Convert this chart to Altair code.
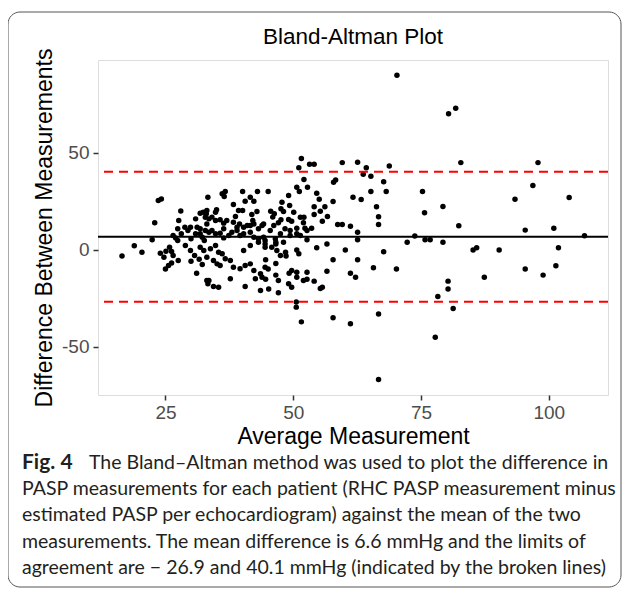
import altair as alt
import pandas as pd

avg_measurement = [
    16.5, 18.9, 20.4, 22.4, 22.9, 23.6, 24.2, 28.0,
    24.0, 24.7, 25.1, 25.8, 26.2, 26.5, 27.5, 26.2, 25.6, 25.0,
    26.5, 27.0, 27.4, 28.1, 27.4, 27.6, 28.8, 29.4, 30.0, 30.9, 31.2, 30.9, 31.8, 32.2,
    33.0, 33.3, 32.6, 33.1, 28.9, 29.9, 30.7, 31.6, 32.2, 30.0, 31.1, 33.1, 33.3,
    36.1, 36.7, 36.5, 40.1, 41.6, 42.3, 40.6, 43.0, 45.1, 38.3, 39.3, 40.1,
    33.1, 32.4, 31.8, 34.8, 35.0, 33.5, 34.1, 34.8, 35.7, 36.4, 37.0, 38.7, 38.3,
    39.5, 40.3, 41.0, 41.6, 42.1, 42.9, 45.6, 46.3, 47.8, 47.6, 49.1, 49.3, 50.1,
    50.7, 51.4, 52.8, 52.1,
    31.8, 32.8, 33.5, 34.1, 34.8, 35.7, 36.4, 37.4, 38.0, 39.0, 39.6, 40.3,
    41.6, 42.3, 43.2, 44.5, 45.5, 46.5, 47.5, 48.4, 49.4, 50.7, 51.4, 52.7,
    31.8, 32.5, 33.8, 34.8, 35.4, 36.1, 36.7, 34.4, 33.1, 35.1, 35.7, 37.7, 38.3,
    39.6, 40.6, 41.6, 42.3, 43.6, 44.5, 40.3, 41.6, 43.2, 44.5, 45.8, 46.8, 47.5,
    48.5, 49.7, 50.7, 33.5, 34.4, 35.4, 37.7, 40.6, 42.6, 43.9, 43.6, 45.2, 47.1,
    49.1, 50.7, 52.0, 52.7,
    41.9, 44.2, 32.8, 39.0, 42.3, 43.2, 29.9, 36.4,
    70.3, 51.6, 51.1, 53.2, 54.1, 59.6, 62.6, 64.3, 63.7, 65.2, 68.8, 52.1, 57.9,
    58.3, 67.7, 68.2, 65.2, 51.2, 54.6, 55.1, 56.2, 54.1, 54.1, 55.3, 56.7, 55.7,
    57.8, 61.7, 63.3, 66.3, 66.7, 66.7, 58.7, 59.6, 61.2, 62.6, 75.3, 75.7, 73.8,
    53.6, 52.0, 52.3, 48.1, 46.0, 49.1, 49.7, 47.6, 47.1, 50.7, 46.2, 43.9, 49.4,
    62.6, 72.3, 75.8, 76.8, 79.3, 67.7, 65.7, 70.2, 60.2, 62.6, 56.6, 54.6, 57.8,
    56.6, 61.2, 62.2, 54.1, 55.3, 55.7, 52.7, 50.6, 50.6, 51.6, 57.8, 61.2, 66.7,
    66.7, 52.7, 50.7, 51.1, 49.2, 49.7, 48.6, 48.1, 46.6, 46.6, 47.1, 46.6, 44.6,
    45.1, 44.6, 46.6, 44.2, 44.5,
    80.4, 81.8, 82.8, 97.9, 96.9, 93.4, 104.0, 79.3, 82.4, 95.4, 101.0, 107.0,
    85.2, 85.9, 90.3, 101.9, 95.4, 98.9, 101.4, 87.4, 80.3, 80.3, 78.3, 81.3, 77.8,
]

diff_measurement = [
    -3.3, 1.9, -1.4, 5.0, 13.8, 25.3, 26.1, 19.9,
    -1.9, -4.0, -0.9, 1.2, -1.0, -3.1, -5.7, -7.0, -8.2, -10.0,
    7.2, 6.0, 4.6, 8.1, 10.7, 14.9, 11.5, 9.8, 5.5, 8.1, 11.5, 15.8, 10.7, 6.3,
    18.4, 27.0, 4.6, 13.2, 2.1, -0.5, -3.1, -5.0, -7.7, -6.0, -12.2, -16.0, -17.7,
    28.7, 29.9, 27.3, 29.9, 27.0, 24.9, 24.9, 29.9, 29.9, 23.2, 20.1, 20.1,
    20.1, 19.2, 18.7, 19.2, 20.5, 15.8, 16.7, 14.9, 15.3, 13.6, 14.9, 17.0, 14.1,
    13.2, 11.5, 12.4, 12.4, 14.9, 19.6, 19.7, 18.4, 24.4, 21.0, 27.8, 22.7, 19.2,
    32.1, 16.6, 32.1, 16.6,
    8.1, 9.8, 8.9, 9.8, 8.1, 8.4, 6.0, 7.2, 8.9, 9.8, 7.2, 8.1,
    8.9, 6.3, 5.5, 4.6, 9.8, 5.5, 8.1, 10.7, 9.8, 8.1, 7.2, 9.8,
    1.2, -0.5, 0.4, 2.1, -1.4, -2.2, -4.8, -5.7, -4.0, -7.4, -8.2, -5.7, -9.1,
    -9.9, -8.2, -7.4, -10.8, -12.5, -9.1, -0.5, 2.1, 3.8, 1.2, 1.2, -0.5, -3.1,
    -1.4, -10.8, -11.7, -16.0, -19.1, -19.4, -15.1, -19.1, -15.1, -14.3, -21.1, -20.3, -16.0,
    -17.7, -14.3, -16.0, -11.7,
    18.0, 13.2, 16.6, 11.5, 13.2, 10.7, 11.5, 10.7,
    89.8, 46.9, 42.1, 44.0, 44.0, 44.8, 45.0, 42.1, 38.8, 37.8, 43.0, 36.1, 34.7,
    35.9, 34.9, 29.9, 29.9, 29.9, 29.0, 25.9, 22.0, 22.0, 18.0, 19.7, 17.0, 14.6,
    24.7, 27.0, 25.8, 22.0, 16.9, 12.9, 12.9, 12.9, 12.0, 8.9, 29.9, 18.9, 7.0,
    11.0, 13.8, 11.0, 19.6, 16.7, 15.5, 14.6, 15.3, 13.8, 11.0, 12.4, 12.4, 7.2,
    5.0, 3.8, 5.0, 5.0, 3.8, -1.2, -9.4, -10.1, -0.2, -5.3, 2.9, 0.9, -5.3,
    -11.2, -12.2, -14.3, -16.3, -20.1, -19.4, -15.3, -27.0, -29.7, -37.3, -35.2, -38.3, -33.2,
    -67.0, 5.0, -0.2, -2.2, -12.2, -19.4, -3.3, 3.8, 3.8, 2.9, -22.3, -7.2, -5.3,
    -10.1, -15.3, -13.2, 6.3, 2.9,
    70.0, 72.8, 44.8, 44.8, 33.0, 25.9, 26.8, 22.2, 12.2, 10.0, 11.0, 7.1,
    -0.2, 0.9, -0.2, 0.9, -10.1, -13.2, -8.4, -14.3, -16.3, -20.3, -24.2, -30.4, -45.2,
]

mean_diff = 6.6
limits_of_agreement = [-26.9, 40.1]
x_ticks = [25, 50, 75, 100]
y_ticks = [-50, 0, 50]

chart_title = "Bland-Altman Plot"
x_title = "Average Measurement"
y_title = "Difference Between Measurements"
fig_label = "Fig. 4"
caption_lines = [
    "The Bland\u2013Altman method was used to plot the difference in",
    "PASP measurements for each patient (RHC PASP measurement minus",
    "estimated PASP per echocardiogram) against the mean of the two",
    "measurements. The mean difference is 6.6 mmHg and the limits of",
    "agreement are \u2212 26.9 and 40.1 mmHg (indicated by the broken lines)",
]

W, H = 510, 335
PLOT_FONT = "Liberation Sans, Arial, Helvetica, sans-serif"
CAP_FONT = "Lato, Noto Sans, sans-serif"

pts = pd.DataFrame({"avg": avg_measurement, "diff": diff_measurement})

xscale = alt.Scale(domain=[11.8, 111.6], nice=False, zero=False)
yscale = alt.Scale(domain=[-75, 97.7], nice=False, zero=False)

points = alt.Chart(pts).mark_circle(size=30, color="black", opacity=1).encode(
    x=alt.X("avg:Q", scale=xscale,
            axis=alt.Axis(values=x_ticks, title=x_title, grid=False, domain=False,
                          tickSize=5, tickWidth=1.5, tickColor="#333333",
                          labelFontSize=19, labelColor="#4d4d4d", labelPadding=3,
                          titleFontSize=23, titleColor="black", titlePadding=3,
                          titleFontWeight="normal", labelFont=PLOT_FONT, titleFont=PLOT_FONT)),
    y=alt.Y("diff:Q", scale=yscale,
            axis=alt.Axis(values=y_ticks, title=y_title, grid=False, domain=False,
                          tickSize=5, tickWidth=1.5, tickColor="#333333",
                          labelFontSize=19, labelColor="#4d4d4d", labelPadding=4,
                          labelExpr="'' + datum.value",
                          titleFontSize=23, titleColor="black", titlePadding=5,
                          titleFontWeight="normal", labelFont=PLOT_FONT, titleFont=PLOT_FONT)),
)

mean_rule = alt.Chart(pd.DataFrame({"m": [mean_diff]})).mark_rule(
    color="black", strokeWidth=2).encode(y=alt.Y("m:Q", scale=yscale))

loa_rule = alt.Chart(pd.DataFrame({"l": limits_of_agreement})).mark_rule(
    color="#ff0000", strokeWidth=2, strokeDash=[9, 6]).encode(y=alt.Y("l:Q", scale=yscale))

one = pd.DataFrame({"a": [0]})
frame = alt.Chart(one).mark_rect(filled=False, stroke="#555555", strokeWidth=1,
                                 cornerRadius=12).encode(
    x=alt.value(-90), x2=alt.value(523), y=alt.value(-48), y2=alt.value(527))

title_text = alt.Chart(one).mark_text(
    text=chart_title, font=PLOT_FONT, fontSize=22.5, align="center",
    baseline="middle", color="black").encode(x=alt.value(W / 2), y=alt.value(-23))

fig_text = alt.Chart(one).mark_text(
    text=fig_label, font=CAP_FONT, fontSize=21, fontWeight="bold", align="left",
    baseline="middle", color="#231f20").encode(x=alt.value(-76), y=alt.value(403))

cap_layers = []
for i, line in enumerate(caption_lines):
    cap_layers.append(alt.Chart(one).mark_text(
        text=line, font=CAP_FONT, fontSize=19.5, align="left", baseline="middle",
        color="#231f20").encode(x=alt.value(-9 if i == 0 else -76),
                                 y=alt.value(403 + 26.2 * i)))

chart = alt.layer(frame, title_text, points, mean_rule, loa_rule, fig_text, *cap_layers).properties(
    width=W, height=H,
    autosize=alt.AutoSizeParams(type="none"),
    padding={"left": 90, "top": 52, "right": 14, "bottom": 193},
).configure_view(stroke="#333333", strokeWidth=1.5).configure(background="white")

chart.save("out.html", embed_options={"renderer": "svg", "actions": False})
